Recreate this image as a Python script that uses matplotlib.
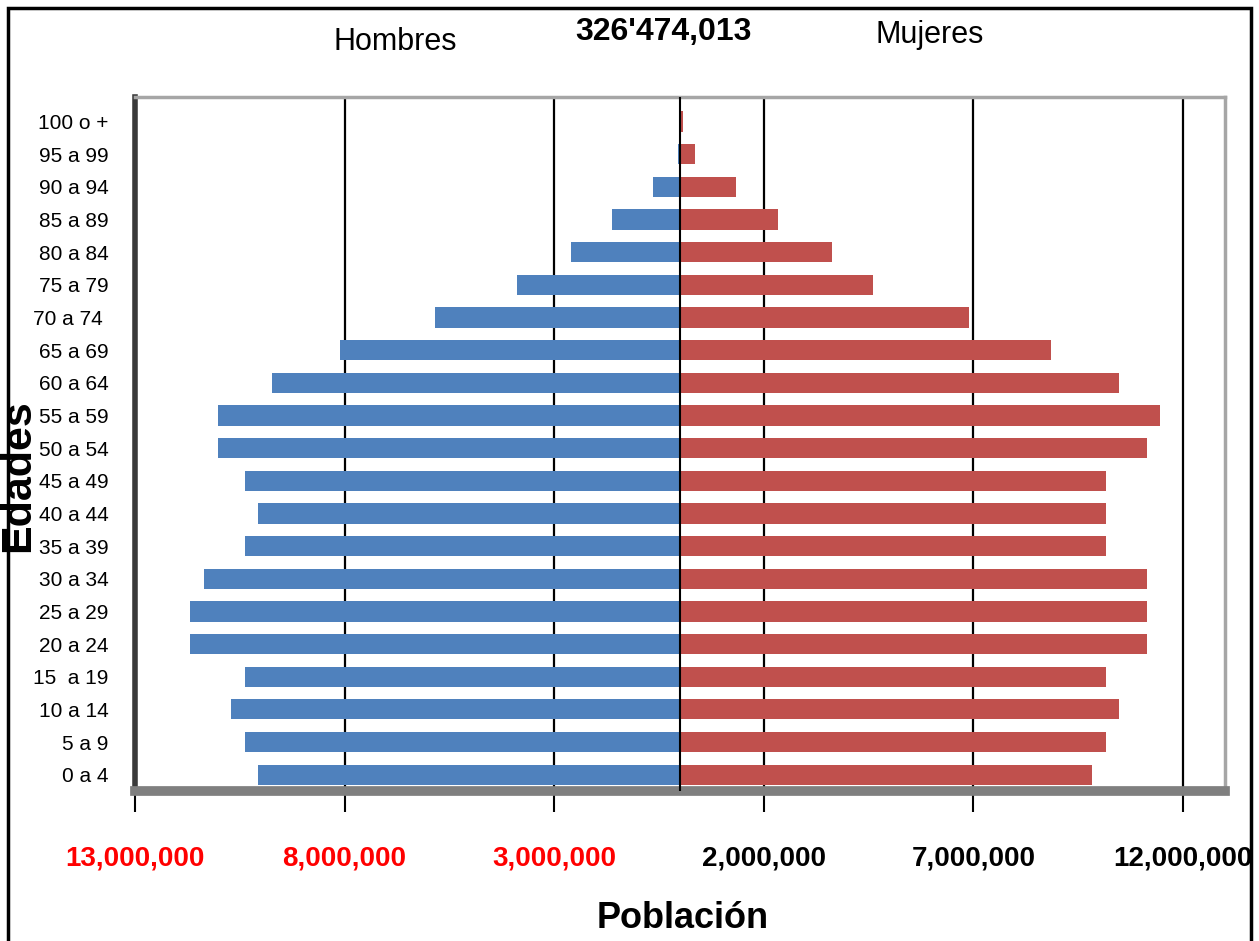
import matplotlib
matplotlib.use("Agg")
import matplotlib.pyplot as plt
from matplotlib.patches import Rectangle
from matplotlib.ticker import FuncFormatter
import numpy as np

# age groups, bottom to top
edades = ['0 a 4', '5 a 9', '10 a 14', '15  a 19', '20 a 24', '25 a 29',
          '30 a 34', '35 a 39', '40 a 44', '45 a 49', '50 a 54', '55 a 59',
          '60 a 64', '65 a 69', '70 a 74 ', '75 a 79', '80 a 84', '85 a 89',
          '90 a 94', '95 a 99', '100 o +']

# population in millions
hombres = [10.06, 10.38, 10.71, 10.38, 11.69, 11.69, 11.36, 10.38, 10.06,
           10.38, 11.03, 11.03, 9.74, 8.12, 5.85, 3.90, 2.59, 1.63, 0.65,
           0.05, 0.02]
mujeres = [9.82, 10.15, 10.48, 10.15, 11.14, 11.14, 11.14, 10.15, 10.15,
           10.15, 11.14, 11.46, 10.48, 8.84, 6.89, 4.60, 3.63, 2.33, 1.34,
           0.35, 0.08]

total_txt = "326'474,013"
x_ticks = [-13e6, -8e6, -3e6, 2e6, 7e6, 12e6]

AZUL = '#4F81BD'
ROJO = '#C0504D'
FAM = ['Liberation Sans', 'DejaVu Sans']

W, H = 1259, 941
fig = plt.figure(figsize=(W / 100, H / 100), dpi=100)
ax = fig.add_axes([135 / W, 1 - 791 / H, (1225 - 135) / W, (791 - 97) / H])

y = np.arange(len(edades))
h = -np.array(hombres) * 1e6
m = np.array(mujeres) * 1e6

ax.barh(y, h, height=0.62, color=AZUL, zorder=2)
ax.barh(y, m, height=0.62, color=ROJO, zorder=2)

# vertical gridlines behind the bars, zero line on top
for xv in x_ticks[1:]:
    ax.axvline(xv, color='black', lw=1.6, zorder=1)
ax.axvline(0, color='black', lw=1.5, zorder=3)

ax.set_xlim(-13e6, 13e6)
ax.set_ylim(-0.5, 20.75)
ax.set_xticks(x_ticks)
ax.xaxis.set_major_formatter(FuncFormatter(lambda v, p: f"{abs(v):,.0f}"))
ax.set_yticks(y)
ax.set_yticklabels(edades, family=FAM, fontsize=15)

ax.tick_params(axis='x', length=15, width=1.5, pad=24, direction='out')
ax.tick_params(axis='y', length=0, pad=19)
for lab, v in zip(ax.get_xticklabels(), x_ticks):
    lab.set_family(FAM)
    lab.set_fontsize(20)
    lab.set_fontweight('bold')
    lab.set_color('#FF0000' if v < 0 else 'black')

ax.spines['left'].set_linewidth(4)
ax.spines['left'].set_color('#3a3a3a')
ax.spines['bottom'].set_linewidth(7)
ax.spines['bottom'].set_color('#7f7f7f')
ax.spines['top'].set_linewidth(2.5)
ax.spines['top'].set_color('#a6a6a6')
ax.spines['right'].set_linewidth(2.5)
ax.spines['right'].set_color('#a6a6a6')

# header texts
fig.text(395 / W, 1 - 42 / H, 'Hombres', ha='center', va='center',
         family=FAM, fontsize=22)
fig.text(663 / W, 1 - 32 / H, total_txt, ha='center', va='center',
         family=FAM, fontsize=23, fontweight='bold')
fig.text(930 / W, 1 - 35 / H, 'Mujeres', ha='center', va='center',
         family=FAM, fontsize=22)

fig.text(683 / W, 1 - 918 / H, 'Población', ha='center', va='center',
         family=FAM, fontsize=26, fontweight='bold')
fig.text(18 / W, 1 - 476 / H, 'Edades', ha='center', va='center',
         rotation=90, family=FAM, fontsize=31, fontweight='bold')

# outer frame
fig.patches.append(Rectangle((8 / W, -0.01), (1251 - 8) / W, 1 - 8 / H + 0.01,
                             transform=fig.transFigure, fill=False,
                             edgecolor='black', lw=2.5))

fig.savefig('out.png', dpi=100)
